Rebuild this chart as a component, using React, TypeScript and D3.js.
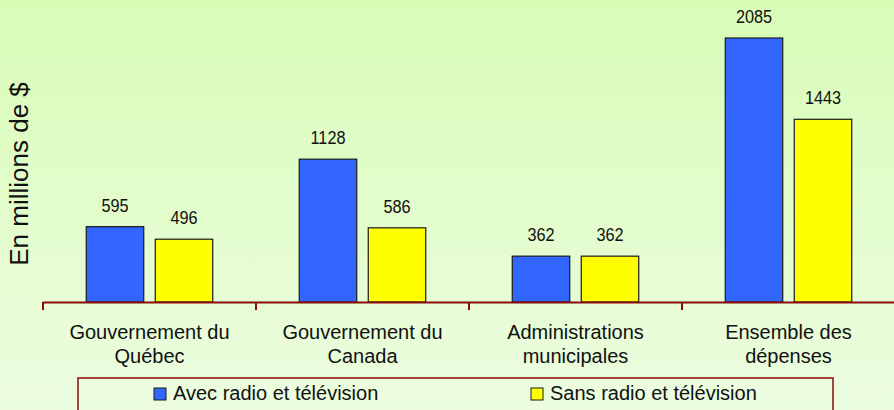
import React from "react";
import * as d3 from "d3";

const categories = [
  ["Gouvernement du", "Québec"],
  ["Gouvernement du", "Canada"],
  ["Administrations", "municipales"],
  ["Ensemble des", "dépenses"],
];
const seriesNames = ["Avec radio et télévision", "Sans radio et télévision"];
const avecValues = [595, 1128, 362, 2085];
const sansValues = [496, 586, 362, 1443];
const seriesColors = ["#3366ff", "#ffff00"];

const width = 894;
const height = 410;
const axisColor = "#8b0a0a";
const font = "Arial, 'Liberation Sans', sans-serif";

const App = () => {
  const x0 = d3
    .scaleBand<number>()
    .domain(d3.range(categories.length))
    .range([43, 895]);

  const x1 = d3
    .scaleBand<number>()
    .domain([0, 1])
    .range([0, x0.bandwidth()])
    .paddingInner(0.167)
    .paddingOuter(0.627);

  const y = d3.scaleLinear().domain([0, 2085]).range([302, 38]);

  const series = [avecValues, sansValues];

  return (
    <svg
      width={width}
      height={height}
      style={{ position: "absolute", left: 0, top: 0 }}
      fontFamily={font}
    >
      <defs>
        <linearGradient id="bg" x1="0" y1="0" x2="0" y2="1">
          <stop offset="0%" stopColor="#d8fcb6" />
          <stop offset="100%" stopColor="#ecfde0" />
        </linearGradient>
      </defs>
      <rect width={width} height={height} fill="url(#bg)" />

      {/* bars */}
      {categories.map((c, i) => (
        <g key={i} transform={`translate(${x0(i)},0)`}>
          {series.map((vals, s) => (
            <g key={s}>
              <rect
                x={x1(s)}
                y={y(vals[i])}
                width={x1.bandwidth()}
                height={y(0) - y(vals[i])}
                fill={seriesColors[s]}
                stroke="#1a1a1a"
                strokeWidth={1.2}
              />
              {/* value labels are a bit condensed in the original */}
              <text
                transform={`translate(${(x1(s) as number) + x1.bandwidth() / 2},${y(vals[i]) - 15}) scale(0.88,1)`}
                textAnchor="middle"
                fontSize={18.5}
                fill="#111"
              >
                {vals[i]}
              </text>
            </g>
          ))}
        </g>
      ))}

      {/* x axis */}
      <line x1={x0.range()[0]} x2={x0.range()[1]} y1={y(0) + 0.5} y2={y(0) + 0.5} stroke={axisColor} strokeWidth={2} />
      {d3.range(categories.length + 1).map((i) => {
        const tx = x0.range()[0] + i * x0.step();
        return (
          <line key={i} x1={tx} x2={tx} y1={y(0)} y2={y(0) + 8} stroke={axisColor} strokeWidth={2} />
        );
      })}
      {categories.map((c, i) => (
        <text
          key={i}
          x={(x0(i) as number) + x0.bandwidth() / 2}
          textAnchor="middle"
          fontSize={20}
          fill="#111"
        >
          <tspan x={(x0(i) as number) + x0.bandwidth() / 2} y={339}>{c[0]}</tspan>
          <tspan x={(x0(i) as number) + x0.bandwidth() / 2} y={363}>{c[1]}</tspan>
        </text>
      ))}

      {/* y title */}
      <text
        transform="translate(28,174) rotate(-90)"
        textAnchor="middle"
        fontSize={26}
        fill="#111"
      >
        En millions de $
      </text>

      {/* legend */}
      <rect x={78} y={378} width={755} height={50} fill="none" stroke={axisColor} strokeWidth={1.5} />
      {seriesNames.map((name, s) => {
        const lx = s === 0 ? 154 : 531;
        return (
          <g key={s}>
            <rect x={lx} y={388} width={12} height={12} fill={seriesColors[s]} stroke="#1a1a1a" strokeWidth={1} />
            <text x={lx + 19} y={400} fontSize={20} fill="#111">
              {name}
            </text>
          </g>
        );
      })}
    </svg>
  );
};

export default App;
